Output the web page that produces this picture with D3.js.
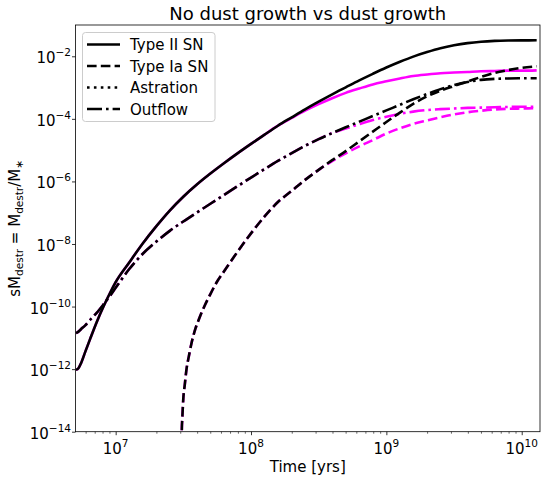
<!DOCTYPE html>
<html>
<head>
<meta charset="utf-8">
<script src="https://cdn.jsdelivr.net/npm/d3@7"></script>
<style>
body { margin: 0; background: #fff; }
svg { display: block; font-family: "DejaVu Sans", sans-serif; }
</style>
</head>
<body>
<svg width="543" height="482"></svg>
<script>
// time grid [yrs]
var years = [5.09e6, 5.31e6, 5.56e6, 5.96e6, 6.46e6, 7.24e6, 8.13e6, 9.12e6, 1.0e7, 1.26e7,
  1.58e7, 2.0e7, 2.51e7, 3.16e7, 3.98e7, 5.01e7, 6.31e7, 7.94e7, 1.0e8, 1.26e8,
  1.58e8, 2.0e8, 2.51e8, 3.16e8, 3.98e8, 5.01e8, 6.31e8, 7.94e8, 1.0e9, 1.26e9,
  1.58e9, 2.0e9, 2.51e9, 3.16e9, 3.98e9, 5.01e9, 6.31e9, 7.94e9, 1.0e10, 1.29e10];

// Type II SN, no dust growth (black) / dust growth (magenta)
var snIINoGrowth = [9.55e-13, 1.07e-12, 1.58e-12, 3.55e-12, 8.91e-12, 3.16e-11, 1.0e-10, 2.82e-10, 6.03e-10, 2.57e-9,
  1.02e-8, 3.72e-8, 1.17e-7, 3.24e-7, 7.94e-7, 1.78e-6, 3.80e-6, 7.85e-6, 1.58e-5, 3.13e-5,
  6.03e-5, 1.12e-4, 2.02e-4, 3.55e-4, 6.10e-4, 1.02e-3, 1.70e-3, 2.75e-3, 4.37e-3, 6.68e-3,
  9.77e-3, 1.36e-2, 1.80e-2, 2.24e-2, 2.63e-2, 2.92e-2, 3.10e-2, 3.19e-2, 3.23e-2, 3.24e-2];
var snIIGrowth = [9.55e-13, 1.07e-12, 1.58e-12, 3.55e-12, 8.91e-12, 3.16e-11, 1.0e-10, 2.82e-10, 6.03e-10, 2.57e-9,
  1.02e-8, 3.72e-8, 1.17e-7, 3.24e-7, 7.94e-7, 1.78e-6, 3.80e-6, 7.85e-6, 1.58e-5, 3.13e-5,
  6.03e-5, 1.07e-4, 1.82e-4, 2.95e-4, 4.57e-4, 6.76e-4, 9.33e-4, 1.26e-3, 1.58e-3, 1.95e-3,
  2.34e-3, 2.63e-3, 2.88e-3, 3.02e-3, 3.16e-3, 3.31e-3, 3.39e-3, 3.47e-3, 3.47e-3, 3.55e-3];

// Outflow
var outflowNoGrowth = [1.41e-11, 1.58e-11, 1.91e-11, 2.51e-11, 3.72e-11, 6.31e-11, 1.17e-10, 2.24e-10, 3.98e-10, 1.58e-9,
  4.79e-9, 1.20e-8, 2.63e-8, 5.25e-8, 1.01e-7, 1.93e-7, 3.67e-7, 7.0e-7, 1.33e-6, 2.48e-6,
  4.52e-6, 8.04e-6, 1.38e-5, 2.24e-5, 3.51e-5, 5.37e-5, 8.13e-5, 1.23e-4, 1.86e-4, 2.82e-4,
  4.22e-4, 6.24e-4, 8.91e-4, 1.20e-3, 1.51e-3, 1.76e-3, 1.90e-3, 1.96e-3, 1.98e-3, 1.99e-3];
var outflowGrowth = [1.41e-11, 1.58e-11, 1.91e-11, 2.51e-11, 3.72e-11, 6.31e-11, 1.17e-10, 2.24e-10, 3.98e-10, 1.58e-9,
  4.79e-9, 1.20e-8, 2.63e-8, 5.25e-8, 1.01e-7, 1.93e-7, 3.67e-7, 7.0e-7, 1.33e-6, 2.48e-6,
  4.52e-6, 8.04e-6, 1.38e-5, 2.24e-5, 3.51e-5, 4.90e-5, 6.76e-5, 9.12e-5, 1.17e-4, 1.45e-4,
  1.70e-4, 1.91e-4, 2.04e-4, 2.14e-4, 2.24e-4, 2.29e-4, 2.34e-4, 2.40e-4, 2.45e-4, 2.45e-4];

// Type Ia SN (starts later)
var yearsIa = [3.073e7, 3.083e7, 3.105e7, 3.16e7, 3.24e7, 3.35e7, 3.47e7, 3.63e7, 3.89e7, 4.17e7,
  4.57e7, 5.01e7, 5.62e7, 6.31e7, 7.94e7, 1.0e8, 1.26e8, 1.58e8, 2.0e8, 2.51e8,
  3.16e8, 3.98e8, 5.01e8, 6.31e8, 7.94e8, 1.0e9, 1.26e9, 1.58e9, 2.0e9, 2.51e9,
  3.16e9, 3.98e9, 5.01e9, 6.31e9, 7.94e9, 1.0e10, 1.29e10];
var snIaNoGrowth = [3.98e-15, 1.26e-14, 2.51e-14, 1.12e-13, 3.16e-13, 1.12e-12, 2.51e-12, 6.61e-12, 2.0e-11, 4.47e-11,
  1.12e-10, 2.51e-10, 6.31e-10, 1.32e-9, 5.62e-9, 2.19e-8, 7.59e-8, 2.19e-7, 5.01e-7, 1.12e-6,
  2.34e-6, 4.79e-6, 9.33e-6, 1.91e-5, 3.89e-5, 7.94e-5, 1.58e-4, 3.02e-4, 5.25e-4, 7.94e-4,
  1.12e-3, 1.55e-3, 2.19e-3, 2.95e-3, 3.63e-3, 4.27e-3, 4.79e-3];
var snIaGrowth = [3.98e-15, 1.26e-14, 2.51e-14, 1.12e-13, 3.16e-13, 1.12e-12, 2.51e-12, 6.61e-12, 2.0e-11, 4.47e-11,
  1.12e-10, 2.51e-10, 6.31e-10, 1.32e-9, 5.62e-9, 2.19e-8, 7.59e-8, 2.19e-7, 5.01e-7, 1.12e-6,
  2.34e-6, 4.47e-6, 7.94e-6, 1.32e-5, 2.09e-5, 3.39e-5, 5.01e-5, 6.92e-5, 8.91e-5, 1.12e-4,
  1.38e-4, 1.62e-4, 1.82e-4, 2.0e-4, 2.09e-4, 2.14e-4, 2.19e-4];

var legendLabels = ["Type II SN", "Type Ia SN", "Astration", "Outflow"];
var xTickExp = [7, 8, 9, 10];
var yTickExp = [-14, -12, -10, -8, -6, -4, -2];

var mLeft = 75.5, mRight = 540, mTop = 25, mBottom = 431.7;
var lw = 2.6;
var dashes = { solid: null, dashed: "9.6,4.2", dotted: "2.6,4.3", dashdot: "15,4,2.6,4" };

var svg = d3.select("svg");
var x = d3.scaleLog().domain([5.05e6, 1.365e10]).range([mLeft, mRight]);
var y = d3.scaleLog().domain([1e-14, 1e-1]).range([mBottom, mTop]);

svg.append("clipPath").attr("id", "plot").append("rect")
  .attr("x", mLeft).attr("y", mTop).attr("width", mRight - mLeft).attr("height", mBottom - mTop);

var line = d3.line().curve(d3.curveMonotoneX)
  .x(function(d) { return x(d[0]); }).y(function(d) { return y(d[1]); });
var g = svg.append("g").attr("clip-path", "url(#plot)");

function draw(t, v, color, style) {
  g.append("path").datum(d3.zip(t, v))
    .attr("d", line).attr("fill", "none")
    .attr("stroke", color).attr("stroke-width", lw)
    .attr("stroke-dasharray", dashes[style]);
}
draw(years, snIIGrowth, "#ff00ff", "solid");
draw(yearsIa, snIaGrowth, "#ff00ff", "dashed");
draw(years, outflowGrowth, "#ff00ff", "dashdot");
draw(years, snIINoGrowth, "#000", "solid");
draw(yearsIa, snIaNoGrowth, "#000", "dashed");
draw(years, outflowNoGrowth, "#000", "dashdot");

// axes
var minorX = [];
[6, 7, 8, 9].forEach(function(e) {
  for (var k = 2; k < 10; k++) {
    var v = k * Math.pow(10, e);
    if (v > 5.05e6 && v < 1.365e10) minorX.push(v);
  }
});
svg.append("g").attr("transform", "translate(0," + mBottom + ")")
  .call(d3.axisBottom(x).tickValues(minorX).tickSize(2).tickFormat(""))
  .call(function(a) { a.select(".domain").remove(); a.selectAll("line").attr("stroke-width", 0.6); });
svg.append("g").attr("transform", "translate(0," + mBottom + ")")
  .call(d3.axisBottom(x).tickValues(xTickExp.map(function(e) { return Math.pow(10, e); })).tickSize(3.5).tickFormat(""))
  .call(function(a) { a.select(".domain").remove(); a.selectAll("line").attr("stroke-width", 0.8); });
svg.append("g").attr("transform", "translate(" + mLeft + ",0)")
  .call(d3.axisLeft(y).tickValues(yTickExp.map(function(e) { return Math.pow(10, e); })).tickSize(3.5).tickFormat(""))
  .call(function(a) { a.select(".domain").remove(); a.selectAll("line").attr("stroke-width", 0.8); });

svg.append("rect").attr("x", mLeft).attr("y", mTop)
  .attr("width", mRight - mLeft).attr("height", mBottom - mTop)
  .attr("fill", "none").attr("stroke", "#000").attr("stroke-width", 0.8);

function powLabel(sel, e) {
  sel.append("tspan").text("10");
  sel.append("tspan").attr("dy", -7).attr("font-size", 10.5)
    .text(String(e).replace("-", "\u2212"));
}
xTickExp.forEach(function(e) {
  var t = svg.append("text").attr("x", x(Math.pow(10, e))).attr("y", mBottom + 22)
    .attr("text-anchor", "middle").attr("font-size", 15);
  powLabel(t, e);
});
yTickExp.forEach(function(e) {
  var t = svg.append("text").attr("x", mLeft - 4.5).attr("y", y(Math.pow(10, e)) + 7)
    .attr("text-anchor", "end").attr("font-size", 15);
  powLabel(t, e);
});

svg.append("text").attr("x", (mLeft + mRight) / 2).attr("y", 20)
  .attr("text-anchor", "middle").attr("font-size", 18).text("No dust growth vs dust growth");
svg.append("text").attr("x", (mLeft + mRight) / 2).attr("y", 472)
  .attr("text-anchor", "middle").attr("font-size", 15).text("Time [yrs]");

var yl = svg.append("text").attr("transform", "translate(20," + (mTop + mBottom) / 2 + ") rotate(-90)")
  .attr("text-anchor", "middle").attr("font-size", 15);
yl.append("tspan").text("sM");
yl.append("tspan").attr("dy", 3).attr("font-size", 10.5).text("destr");
yl.append("tspan").attr("dy", -3).text(" = M");
yl.append("tspan").attr("dy", 3).attr("font-size", 10.5).text("destr");
yl.append("tspan").attr("dy", -3).text("/M");
yl.append("tspan").attr("dy", 3).attr("font-size", 10.5).text("\u2217");

// legend
var lg = svg.append("g");
lg.append("rect").attr("x", 82.5).attr("y", 32.5).attr("width", 132.5).attr("height", 89)
  .attr("rx", 3).attr("fill", "#fff").attr("fill-opacity", 0.8)
  .attr("stroke", "#ccc").attr("stroke-width", 1);
var styles = ["solid", "dashed", "dotted", "dashdot"];
legendLabels.forEach(function(name, i) {
  var cy = 44.5 + i * 21.5;
  lg.append("line").attr("x1", 87).attr("x2", 120).attr("y1", cy).attr("y2", cy)
    .attr("stroke", "#000").attr("stroke-width", lw).attr("stroke-dasharray", dashes[styles[i]]);
  lg.append("text").attr("x", 130).attr("y", cy + 5.5).attr("font-size", 15).text(name);
});
</script>
</body>
</html>
